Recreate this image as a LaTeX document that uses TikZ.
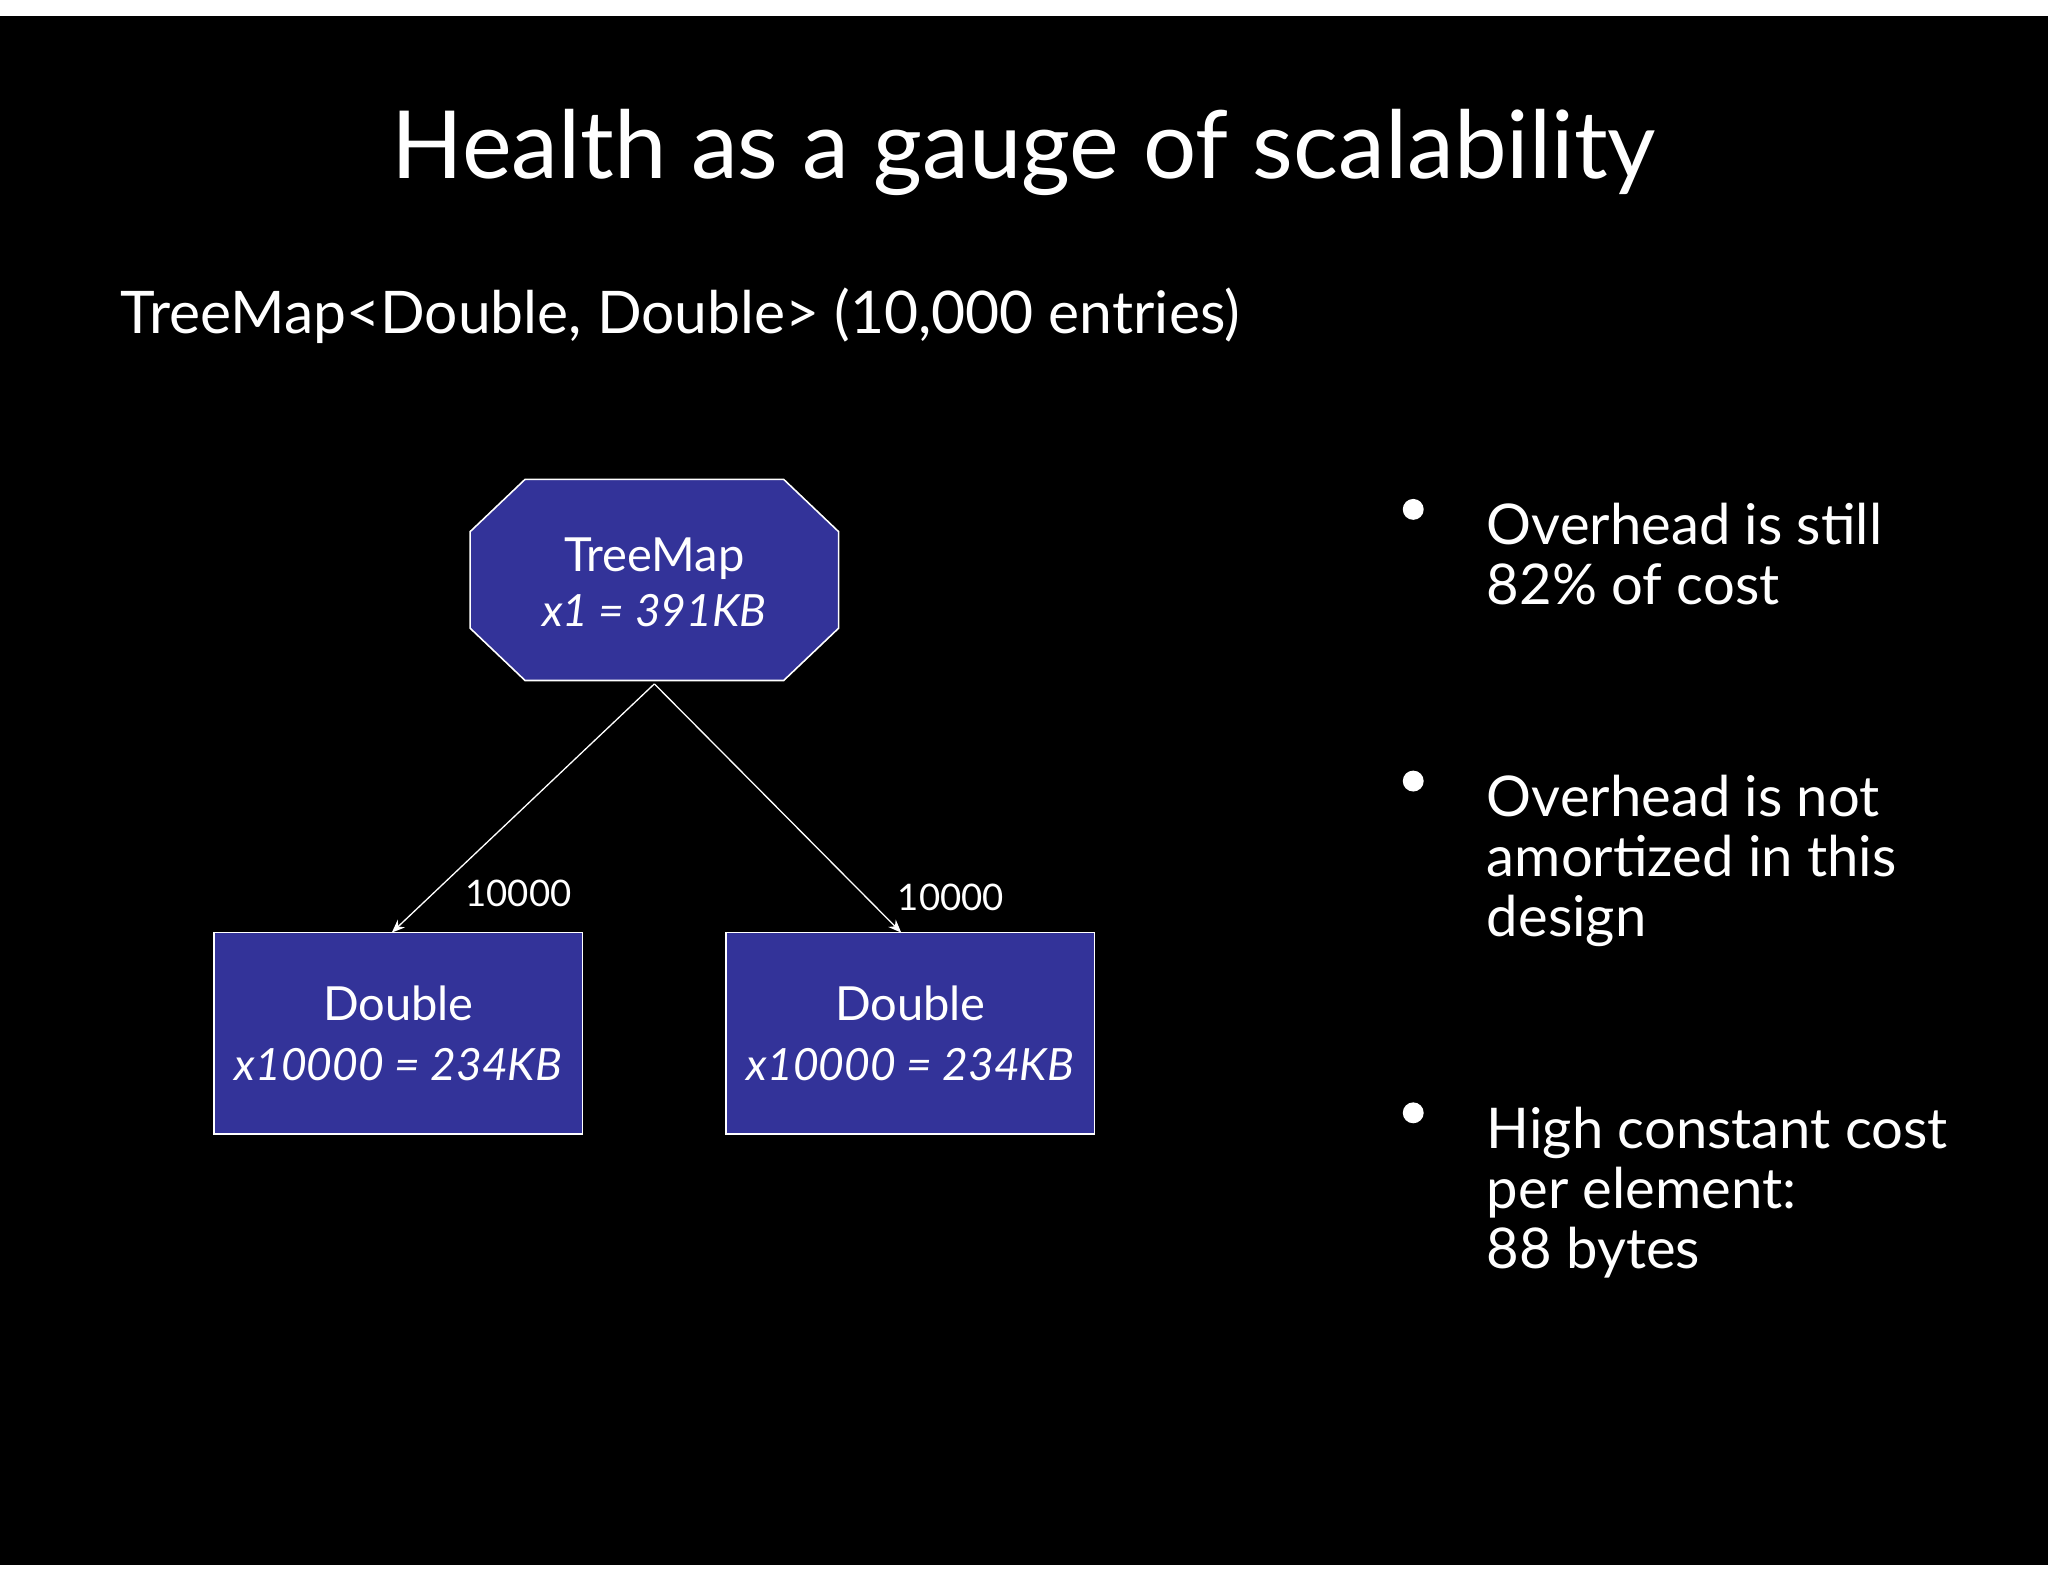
\documentclass[tikz,border=0pt]{standalone}
\usepackage{fontspec}
\setmainfont{Lato}
\usetikzlibrary{arrows.meta}
\definecolor{boxblue}{HTML}{333399}
\begin{document}
\begin{tikzpicture}[x=0.5pt,y=-0.5pt,
  box/.style={draw=white,fill=boxblue,line width=0.6pt,minimum width=141pt,minimum height=77pt,inner sep=0pt,text=white,font=\fontsize{18}{22}\selectfont,align=center},
  edge/.style={draw=white,line width=0.5pt,-{Stealth[length=5pt,width=4pt]}},
  elab/.style={text=white,font=\fontsize{14}{16}\selectfont},
  txt/.style={text=white,anchor=north west,align=left,font=\fontsize{21.5}{23}\selectfont,inner sep=0pt},
  dot/.style={circle,fill=white,inner sep=0pt,minimum size=8pt}]
\useasboundingbox (0,0) rectangle (1568,1210);
\fill[white] (0,0) rectangle (1568,1210);
\fill[black] (0,12) rectangle (1568,1198);
\node[text=white,font=\fontsize{36}{40}\selectfont] (title) at (784,117) {Health as a gauge of scalability};
\node[text=white,anchor=west,font=\fontsize{22.5}{24}\selectfont,inner sep=0pt] (sub) at (92,242) {TreeMap<Double, Double> (10,000 entries)};
\fill[boxblue,draw=white,line width=0.6pt] (402,367) -- (600,367) -- (642,407) -- (642,481) -- (600,521) -- (402,521) -- (360,481) -- (360,407) -- cycle;
\node[box,draw=none,fill=none,minimum width=141pt] (tm) at (501,446) {TreeMap\\[-1pt]{\fontsize{17}{20}\selectfont\textit{x1 = 391KB}}};
\node[box] (d1) at (305,791) {Double\\[1pt]{\fontsize{17}{20}\selectfont\textit{x10000 = 234KB}}};
\node[box] (d2) at (697,791) {Double\\[1pt]{\fontsize{17}{20}\selectfont\textit{x10000 = 234KB}}};
\draw[edge] (tm.south) -- (300,714);
\draw[edge] (tm.south) -- (690,714);
\node[elab] (l1) at (397,684) {10000};
\node[elab] (l2) at (728,687) {10000};
\node[dot] (b1) at (1082,390) {};
\node[dot] (b2) at (1082,598) {};
\node[dot] (b3) at (1082,852) {};
\node[txt] (t1) at (1138,385) {Overhead is still\\82\% of cost};
\node[txt] (t2) at (1138,593) {Overhead is not\\amortized in this\\design};
\node[txt] (t3) at (1138,847) {High constant cost\\per element:\\88 bytes};
\end{tikzpicture}
\end{document}
